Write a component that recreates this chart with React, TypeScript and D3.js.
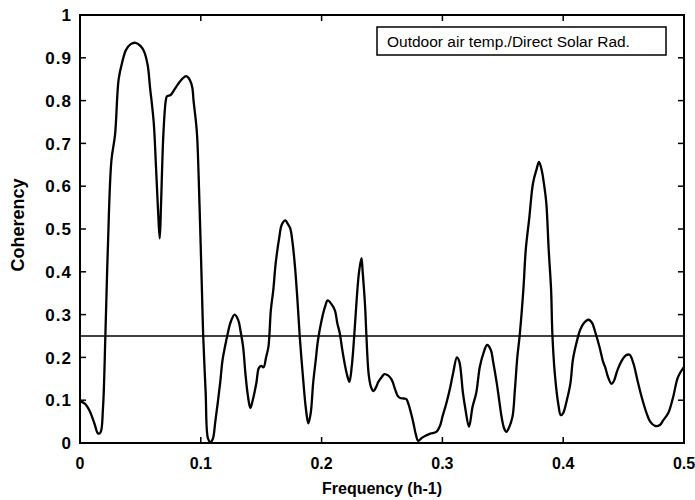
import React from "react";
import * as d3 from "d3";

const freq: number[] = [
  0.000, 0.004, 0.008, 0.012, 0.015, 0.017, 0.019, 0.021, 0.023, 0.026,
  0.029, 0.032, 0.035, 0.038, 0.042, 0.046, 0.050, 0.053, 0.056, 0.058,
  0.061, 0.063, 0.065, 0.066, 0.067, 0.069, 0.071, 0.072, 0.075, 0.078,
  0.081, 0.085, 0.088, 0.091, 0.093, 0.094, 0.096, 0.097, 0.099, 0.101,
  0.102, 0.104, 0.106, 0.108, 0.110, 0.112, 0.114, 0.116, 0.118, 0.120,
  0.122, 0.125, 0.128, 0.131, 0.133, 0.135, 0.137, 0.139, 0.141, 0.143,
  0.146, 0.148, 0.150, 0.152, 0.154, 0.156, 0.158, 0.160, 0.162, 0.165,
  0.167, 0.170, 0.172, 0.174, 0.176, 0.178, 0.180, 0.182, 0.185, 0.187,
  0.189, 0.191, 0.193, 0.195, 0.197, 0.200, 0.203, 0.205, 0.208, 0.211,
  0.213, 0.215, 0.217, 0.219, 0.221, 0.223, 0.225, 0.227, 0.229, 0.231,
  0.233, 0.234, 0.236, 0.237, 0.239, 0.241, 0.243, 0.245, 0.247, 0.250,
  0.252, 0.255, 0.258, 0.261, 0.263, 0.265, 0.268, 0.270, 0.272, 0.274,
  0.276, 0.278, 0.280, 0.283, 0.286, 0.290, 0.295, 0.298, 0.300, 0.303,
  0.306, 0.309, 0.312, 0.314, 0.317, 0.319, 0.322, 0.325, 0.328, 0.331,
  0.334, 0.337, 0.340, 0.342, 0.345, 0.347, 0.349, 0.351, 0.353, 0.355,
  0.358, 0.360, 0.362, 0.364, 0.367, 0.369, 0.372, 0.375, 0.378, 0.380,
  0.382, 0.384, 0.386, 0.388, 0.390, 0.391, 0.393, 0.396, 0.398, 0.400,
  0.403, 0.406, 0.408, 0.411, 0.414, 0.417, 0.421, 0.424, 0.426, 0.430,
  0.433, 0.435, 0.437, 0.440, 0.442, 0.445, 0.449, 0.452, 0.455, 0.458,
  0.460, 0.462, 0.465, 0.469, 0.472, 0.476, 0.480, 0.483, 0.487, 0.491,
  0.495, 0.500,
];

const coherency: number[] = [
  0.097, 0.092, 0.075, 0.045, 0.022, 0.025, 0.080, 0.250, 0.450, 0.660,
  0.720, 0.850, 0.890, 0.918, 0.932, 0.935, 0.928, 0.915, 0.883, 0.830,
  0.750, 0.640, 0.520, 0.478, 0.550, 0.720, 0.800, 0.810, 0.813, 0.825,
  0.838, 0.852, 0.857, 0.848, 0.830, 0.800, 0.750, 0.715, 0.550, 0.350,
  0.250, 0.120, 0.010, 0.002, 0.010, 0.050, 0.093, 0.140, 0.194, 0.225,
  0.252, 0.285, 0.300, 0.287, 0.260, 0.225, 0.160, 0.110, 0.082, 0.100,
  0.140, 0.175, 0.180, 0.177, 0.200, 0.225, 0.311, 0.357, 0.420, 0.481,
  0.510, 0.520, 0.512, 0.502, 0.467, 0.411, 0.334, 0.245, 0.140, 0.080,
  0.046, 0.070, 0.140, 0.190, 0.240, 0.287, 0.320, 0.333, 0.325, 0.310,
  0.280, 0.257, 0.220, 0.187, 0.160, 0.143, 0.180, 0.250, 0.334, 0.400,
  0.432, 0.400, 0.320, 0.257, 0.160, 0.130, 0.121, 0.130, 0.143, 0.155,
  0.161, 0.158, 0.148, 0.124, 0.110, 0.105, 0.104, 0.103, 0.090, 0.070,
  0.047, 0.020, 0.005, 0.012, 0.017, 0.022, 0.026, 0.040, 0.061, 0.090,
  0.124, 0.165, 0.200, 0.190, 0.117, 0.080, 0.038, 0.085, 0.117, 0.178,
  0.210, 0.229, 0.218, 0.190, 0.140, 0.100, 0.061, 0.035, 0.026, 0.035,
  0.061, 0.124, 0.200, 0.252, 0.357, 0.451, 0.528, 0.607, 0.640, 0.657,
  0.640, 0.607, 0.561, 0.451, 0.357, 0.257, 0.164, 0.090, 0.065, 0.070,
  0.100, 0.140, 0.194, 0.234, 0.264, 0.280, 0.288, 0.280, 0.264, 0.225,
  0.190, 0.175, 0.155, 0.138, 0.145, 0.171, 0.195, 0.205, 0.206, 0.187,
  0.165, 0.140, 0.107, 0.070, 0.050, 0.040, 0.042, 0.054, 0.070, 0.107,
  0.154, 0.178,
];

const xTicks: number[] = [0, 0.1, 0.2, 0.3, 0.4, 0.5];
const xTickLabels: string[] = ["0", "0.1", "0.2", "0.3", "0.4", "0.5"];
const yTicks: number[] = [0, 0.1, 0.2, 0.3, 0.4, 0.5, 0.6, 0.7, 0.8, 0.9, 1];
const yTickLabels: string[] = ["0", "0.1", "0.2", "0.3", "0.4", "0.5", "0.6", "0.7", "0.8", "0.9", "1"];
const threshold = 0.25;
const legendText = "Outdoor air temp./Direct Solar Rad.";
const xTitle = "Frequency (h-1)";
const yTitle = "Coherency";

export default function App() {
  const W = 695, H = 500;
  const left = 80, right = 684, top = 15, bottom = 443;
  const x = d3.scaleLinear().domain([0, 0.5]).range([left, right]);
  const y = d3.scaleLinear().domain([0, 1]).range([bottom, top]);
  const pts: [number, number][] = freq.map((f, i) => [f, coherency[i]]);
  const line = d3
    .line<[number, number]>()
    .x((d) => x(d[0]))
    .y((d) => y(d[1]))
    .curve(d3.curveCatmullRom.alpha(0.5));
  const font = "Arial, 'Liberation Sans', Helvetica, sans-serif";
  const tl = 6;
  return (
    <svg
      width={W}
      height={H}
      style={{ position: "absolute", left: 0, top: 0, background: "#fff" }}
      fontFamily={font}
    >
      <defs>
        <clipPath id="plotclip">
          <rect x={left} y={top - 2} width={right - left} height={bottom - top + 2} />
        </clipPath>
      </defs>
      <rect x={0} y={0} width={W} height={H} fill="#fff" />
      {/* threshold */}
      <line x1={left} x2={right} y1={y(threshold)} y2={y(threshold)} stroke="#000" strokeWidth={1.6} />
      {/* curve */}
      <path d={line(pts) || ""} fill="none" stroke="#000" strokeWidth={2.3} strokeLinejoin="round" clipPath="url(#plotclip)" />
      {/* frame */}
      <rect x={left} y={top} width={right - left} height={bottom - top} fill="none" stroke="#000" strokeWidth={2} />
      {/* x ticks */}
      {xTicks.map((t, i) => (
        <g key={"xt" + i}>
          <line x1={x(t)} x2={x(t)} y1={bottom} y2={bottom - tl} stroke="#000" strokeWidth={1.5} />
          <line x1={x(t)} x2={x(t)} y1={top} y2={top + tl} stroke="#000" strokeWidth={1.5} />
          <text x={x(t)} y={469} textAnchor="middle" fontSize={16} fontWeight="bold">
            {xTickLabels[i]}
          </text>
        </g>
      ))}
      {/* y ticks */}
      {yTicks.map((t, i) => (
        <g key={"yt" + i}>
          <line x1={left} x2={left + tl} y1={y(t)} y2={y(t)} stroke="#000" strokeWidth={1.5} />
          <line x1={right} x2={right - tl} y1={y(t)} y2={y(t)} stroke="#000" strokeWidth={1.5} />
          <text x={72} y={y(t)} dy="0.36em" textAnchor="end" fontSize={17} fontWeight="bold" letterSpacing={1}>
            {yTickLabels[i]}
          </text>
        </g>
      ))}
      {/* axis titles */}
      <text x={(left + right) / 2} y={494} textAnchor="middle" fontSize={16} fontWeight="bold">
        {xTitle}
      </text>
      <text
        transform={`translate(24, 225) rotate(-90)`}
        textAnchor="middle"
        fontSize={18}
        fontWeight="bold"
      >
        {yTitle}
      </text>
      {/* legend */}
      <rect x={377} y={27} width={289} height={28} fill="#fff" stroke="#000" strokeWidth={1.5} />
      <text x={387} y={47} fontSize={15.5}>
        {legendText}
      </text>
    </svg>
  );
}
